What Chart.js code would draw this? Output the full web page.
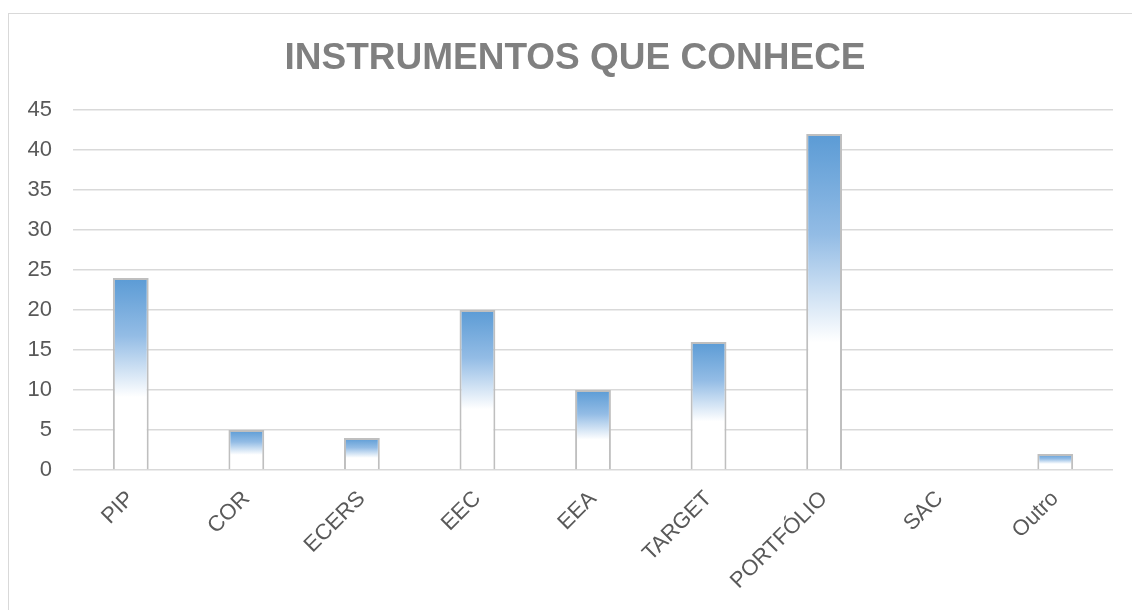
<!DOCTYPE html>
<html>
<head>
<meta charset="utf-8">
<script src="https://cdn.jsdelivr.net/npm/chart.js@4/dist/chart.umd.min.js"></script>
<style>
  html, body { margin: 0; padding: 0; background: #ffffff; overflow: hidden; }
  #wrap { position: relative; width: 1132px; height: 610px; overflow: hidden; }
  #frame { position: absolute; left: 8px; top: 13px; width: 1200px; height: 700px; border: 1.5px solid #d9d9d9; box-sizing: border-box; }
  #c { position: absolute; left: 0; top: 0; }
</style>
</head>
<body>
<div id="wrap">
  <div id="frame"></div>
  <canvas id="c" width="1132" height="610"></canvas>
</div>
<script>
const chartTitle = "INSTRUMENTOS QUE CONHECE";
const categories = ["PIP", "COR", "ECERS", "EEC", "EEA", "TARGET", "PORTFÓLIO", "SAC", "Outro"];
const values = [24, 5, 4, 20, 10, 16, 42, 0, 2];
const yTicks = [0, 5, 10, 15, 20, 25, 30, 35, 40, 45];

const FONT = "'Liberation Sans', Arial, sans-serif";

function barGradient(ctx) {
  const chart = ctx.chart;
  const area = chart.chartArea;
  if (!area || ctx.raw === undefined) return '#5b9bd5';
  const y = chart.scales.y;
  const top = y.getPixelForValue(ctx.raw);
  const base = y.getPixelForValue(0);
  if (base - top < 1) return '#ffffff';
  const g = chart.ctx.createLinearGradient(0, top, 0, base);
  g.addColorStop(0, '#5b9bd5');
  g.addColorStop(0.3, '#93bce5');
  g.addColorStop(0.62, '#ffffff');
  g.addColorStop(1, '#ffffff');
  return g;
}

// Draws the chart title centred over the whole chart frame (which extends past the picture's right edge)
const frameTitle = {
  id: 'frameTitle',
  afterDraw(chart) {
    const c = chart.ctx;
    c.save();
    c.font = "bold 37px " + FONT;
    c.fillStyle = '#808080';
    c.textAlign = 'center';
    c.textBaseline = 'alphabetic';
    c.fillText(chartTitle, 575, 69);
    c.restore();
  }
};

new Chart(document.getElementById('c'), {
  type: 'bar',
  data: {
    labels: categories,
    datasets: [{
      data: values,
      backgroundColor: barGradient,
      borderColor: '#bfbfbf',
      borderWidth: (ctx) => (ctx.raw === 0 ? 0 : 2),
      borderSkipped: 'start',
      categoryPercentage: 1,
      barPercentage: 0.31
    }]
  },
  plugins: [frameTitle],
  options: {
    responsive: false,
    animation: false,
    devicePixelRatio: 1,
    layout: { padding: { left: 18, right: 19, top: 110, bottom: 0 } },
    plugins: {
      legend: { display: false },
      tooltip: { enabled: false },
      title: { display: false }
    },
    scales: {
      x: {
        grid: { display: false, drawTicks: false },
        border: { display: false },
        ticks: {
          color: '#595959',
          font: { family: FONT, size: 22 },
          maxRotation: 45,
          minRotation: 45,
          padding: 16,
          autoSkip: false
        },
        afterFit: (s) => { s.height = 140; }
      },
      y: {
        min: 0,
        max: 45,
        afterBuildTicks: (s) => { s.ticks = yTicks.map(v => ({ value: v })); },
        grid: { color: '#d9d9d9', lineWidth: 1.5, drawTicks: false },
        border: { display: false },
        ticks: {
          color: '#595959',
          font: { family: FONT, size: 22 },
          padding: 21
        },
        afterFit: (s) => { s.width = 55; }
      }
    }
  }
});
</script>
</body>
</html>
